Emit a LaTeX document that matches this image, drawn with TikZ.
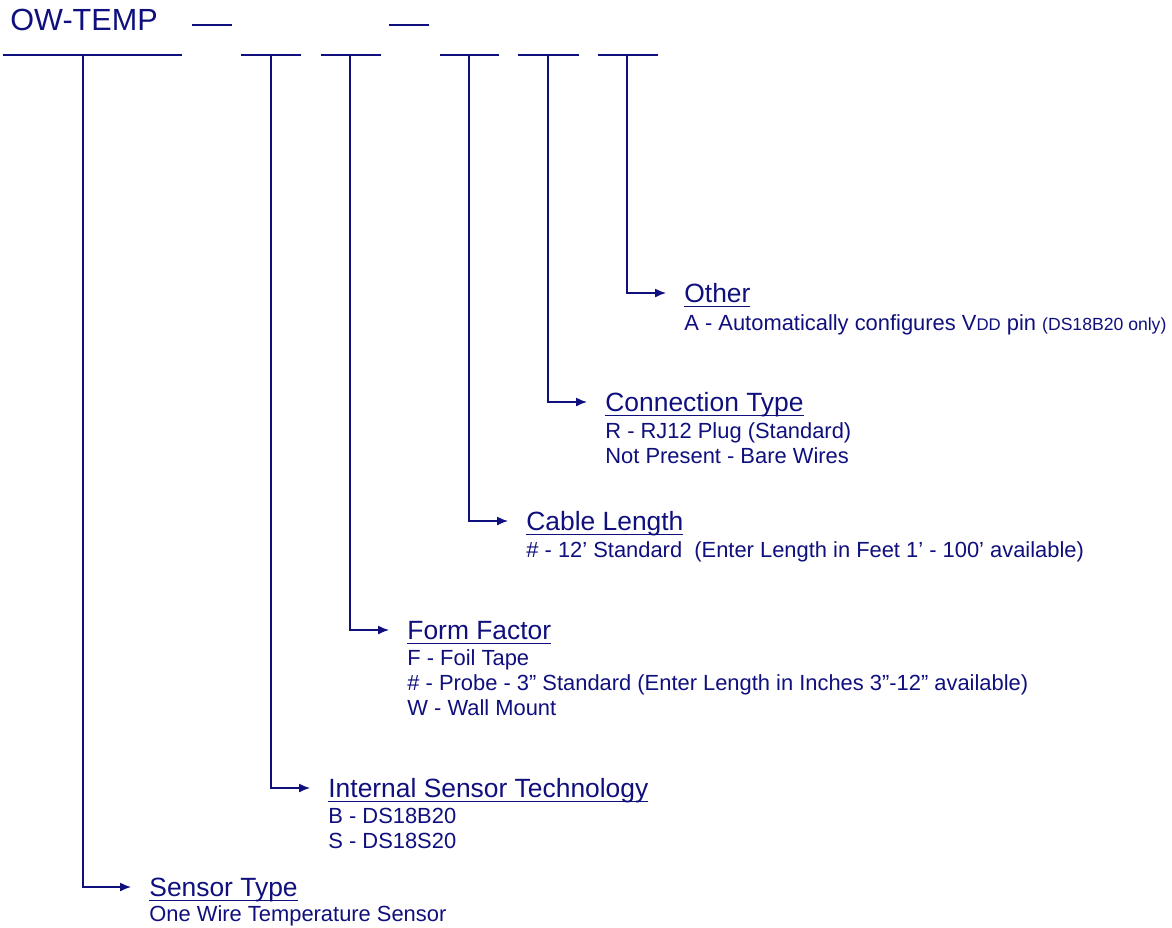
\documentclass[tikz,border=0pt]{standalone}
\usepackage{fontspec}
\setmainfont{Liberation Sans}
\usetikzlibrary{arrows.meta}
\definecolor{navy}{RGB}{15,15,125}
% heading text with a fixed underline
\newcommand{\ulhead}[1]{\setbox0\hbox{#1}\rlap{\rule[-2.6pt]{\wd0}{0.75pt}}\box0}

\begin{document}
\begin{tikzpicture}[x=0.5pt,y=-0.5pt,
	every node/.style={text=navy, inner sep=0pt},
	codeline/.style={draw=navy, line width=0.55pt},
	head/.style={anchor=base west, font=\fontsize{13.2}{15}\selectfont},
	desc/.style={anchor=north west, align=left, font=\fontsize{10.95}{12.5}\selectfont, execute at begin node=\strut},
	lead/.style={draw=navy, line width=0.7pt, -{Latex[length=5.5pt,width=4.5pt]}, shorten >=9pt}]
	\useasboundingbox (0,0) rectangle (1172,927);

	\node (code) [anchor=base west, font=\fontsize{15.3}{18}\selectfont] at (10,30) {OW-TEMP};
	\draw [codeline] (192,25) -- (232,25);
	\draw [codeline] (389,25) -- (429,25);
	\draw [codeline] (3,55) -- (182,55);
	\draw [codeline] (241,55) -- (301,55);
	\draw [codeline] (321,55) -- (381,55);
	\draw [codeline] (440,55) -- (499,55);
	\draw [codeline] (518,55) -- (579,55);
	\draw [codeline] (598,55) -- (658,55);
	\coordinate (f1) at (83,55);
	\coordinate (f2) at (271,55);
	\coordinate (f3) at (350,55);
	\coordinate (f4) at (469,55);
	\coordinate (f5) at (548,55);
	\coordinate (f6) at (627,55);

	\node (other) [head] at (684,302) {\ulhead{Other}};
	\node (otherd) [desc] at (684,313) {A - Automatically configures V{\fontsize{8.4}{10}\selectfont DD} pin {\fontsize{8.8}{10}\selectfont(DS18B20 only)}};
	\node (conn) [head] at (605,411) {\ulhead{Connection Type}};
	\node (connd) [desc] at (605,422) {R - RJ12 Plug (Standard)\\Not Present - Bare Wires};
	\node (cable) [head] at (526,530) {\ulhead{Cable Length}};
	\node (cabled) [desc] at (526,540) {\# - 12’ Standard\ \ (Enter Length in Feet 1’ - 100’ available)};
	\node (form) [head] at (407,639) {\ulhead{Form Factor}};
	\node (formd) [desc] at (407,649.5) {F - Foil Tape\\\# - Probe - 3” Standard (Enter Length in Inches 3”-12” available)\\W - Wall Mount};
	\node (tech) [head] at (328,797) {\ulhead{Internal Sensor Technology}};
	\node (techd) [desc] at (328,807.5) {B - DS18B20\\S - DS18S20};
	\node (type) [head] at (149,896) {\ulhead{Sensor Type}};
	\node (typed) [desc] at (149,904) {One Wire Temperature Sensor};

	\draw [lead] (f1) |- ([yshift=4.5pt]type.base west);
	\draw [lead] (f2) |- ([yshift=4.5pt]tech.base west);
	\draw [lead] (f3) |- ([yshift=4.5pt]form.base west);
	\draw [lead] (f4) |- ([yshift=4.5pt]cable.base west);
	\draw [lead] (f5) |- ([yshift=4.5pt]conn.base west);
	\draw [lead] (f6) |- ([yshift=4.5pt]other.base west);
\end{tikzpicture}
\end{document}
